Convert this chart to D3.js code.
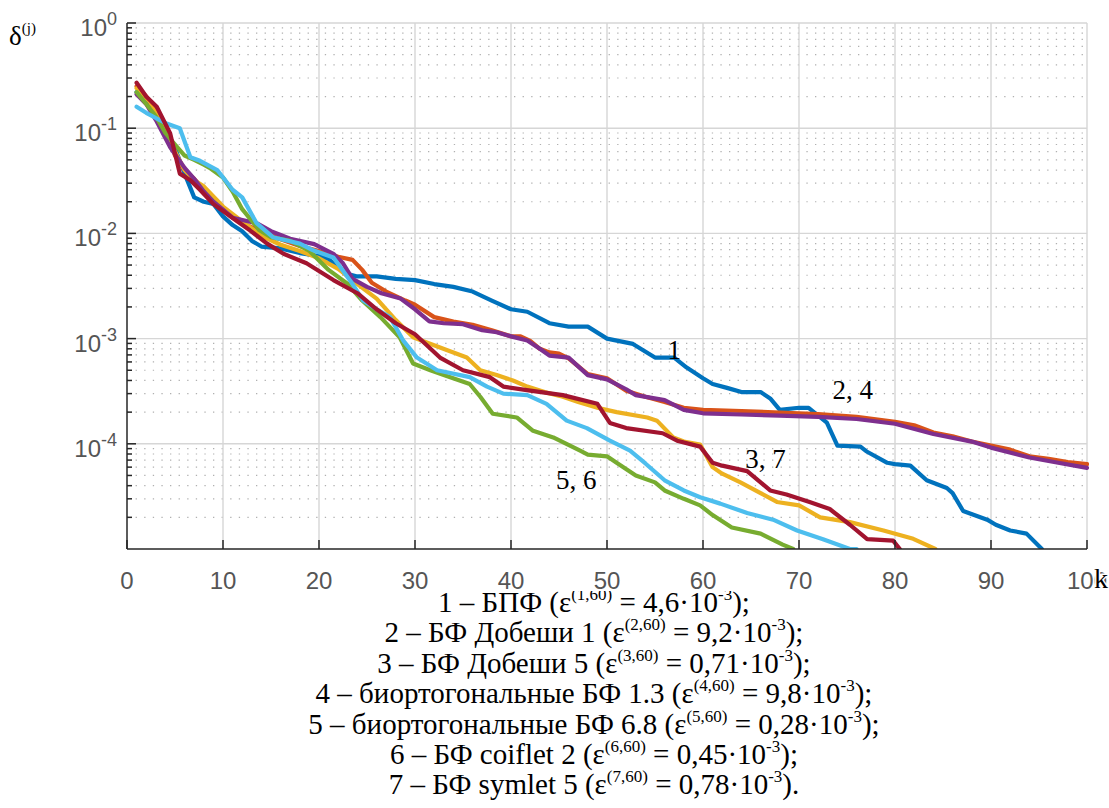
<!DOCTYPE html>
<html>
<head>
<meta charset="utf-8">
<script src="https://cdn.jsdelivr.net/npm/d3@7"></script>
<style>
  body { margin: 0; background: #fff; }
  svg { display: block; }
</style>
</head>
<body>
<div id="chart"></div>
<script>
// curve 1 - БПФ
var k1 = [1,2,3,4,5,6,7,8,9,10,11,12,13,14,16,18,20,21,22,23,24,26,28,30,32,34,36,38,40,41.7,44,46,48,50,52.7,55,57,58.3,60,61,62.5,64,66,67,68,70,71,72.9,74,76.4,77,79.2,80,81.6,83.3,85.4,86,87.1,89.6,90.5,92,93.7,95.3];
var v1 = [0.22,0.18,0.14,0.1,0.065,0.037,0.022,0.020,0.019,0.0145,0.012,0.0105,0.0085,0.0075,0.0072,0.0065,0.0061,0.0057,0.0047,0.0041,0.0039,0.0039,0.0037,0.0036,0.0033,0.0031,0.0028,0.0023,0.0019,0.0018,0.0014,0.0013,0.0013,0.0010,0.00089,0.00066,0.00066,0.00053,0.00042,0.00037,0.00034,0.00031,0.00031,0.00027,0.00021,0.00022,0.00022,0.000159,0.000096,0.000094,0.000085,0.000066,0.000064,0.000062,0.000045,0.000038,0.000034,0.000023,0.000019,0.000017,0.000015,0.000014,0.00001];
// curve 2 - БФ Добеши 1
var k2 = [1,2,3,4,5,6,7,8,9,10,12,14,16,18,20,22,23.5,24.5,25.5,27,29,30,32,34,36,38,40,41,42,43,44,45,46,48,50,52,54,56,58,60,64,68,72,76,80,82,84,86,88,90,92,94,96,98,100];
var v2 = [0.25,0.2,0.15,0.095,0.055,0.04,0.033,0.026,0.021,0.017,0.0125,0.0105,0.0088,0.0076,0.0068,0.006,0.0056,0.0045,0.0034,0.0028,0.0023,0.0021,0.0016,0.00145,0.00135,0.0012,0.00105,0.00105,0.00095,0.0008,0.00074,0.00072,0.00065,0.00046,0.00042,0.00032,0.00028,0.00025,0.00022,0.00021,0.000205,0.000198,0.000192,0.00018,0.000162,0.00015,0.000128,0.000118,0.000105,0.000096,0.000088,0.000076,0.000072,0.000067,0.000064];
// curve 3 - БФ Добеши 5
var k3 = [1,2,3,4,5,6,7,8,10,12,14,16,18,20,22,24,26,28,29.8,31.5,33.3,35.4,36.8,38.5,40.2,41.7,43.5,45.4,47,49,51,54.2,55.2,56.9,58,59.7,61,62,63.9,66,67.7,70,72.2,75.3,78.8,81.9,84.2];
var v3 = [0.24,0.19,0.14,0.09,0.06,0.04,0.032,0.028,0.018,0.013,0.0095,0.0078,0.0068,0.0058,0.0046,0.0033,0.0024,0.0015,0.00103,0.0009,0.00078,0.00066,0.0005,0.00045,0.0004,0.00035,0.00031,0.00028,0.00025,0.00022,0.0002,0.000178,0.000166,0.000115,0.000105,0.0000985,0.00006,0.000052,0.000043,0.000034,0.000028,0.000026,0.00002,0.000018,0.000015,0.0000125,0.00001];
// curve 4 - биортогональные БФ 1.3
var k4 = [1,2,3,4.5,6,7,8,9,11,13.5,15,17,19.5,21.5,22.5,23.5,25,26.5,28.5,30,31.5,33,35,37,38.5,40,41.7,43,44,46,48,50,52,53,56,58,60,64,68,72,76,80,84,88,90,94,97,100];
var v4 = [0.21,0.17,0.12,0.066,0.042,0.033,0.025,0.02,0.0141,0.0125,0.0105,0.0089,0.0079,0.0064,0.0052,0.0037,0.0031,0.0027,0.0024,0.0019,0.00146,0.0014,0.00137,0.0012,0.00115,0.00105,0.00096,0.0008,0.00069,0.00066,0.00045,0.00041,0.00033,0.00029,0.00026,0.00021,0.000195,0.00019,0.000185,0.00018,0.000172,0.000155,0.000124,0.000105,0.000092,0.000074,0.000066,0.000059];
// curve 5 - биортогональные БФ 6.8
var k5 = [1,2,3,4,5,6,7,8,8.6,10,11,12,13.8,15,17,19,21,23,24.5,26.4,28.4,29.8,31.6,33,35.7,36.8,38.1,40.6,42.3,44.4,47.2,48,50,51,53,55,56,58,59.7,61,63,66,68.3,69.4];
var v5 = [0.22,0.17,0.13,0.09,0.07,0.055,0.05,0.045,0.042,0.034,0.025,0.017,0.0107,0.0092,0.0085,0.0068,0.0045,0.0033,0.0023,0.0016,0.00103,0.00058,0.0005,0.00045,0.00037,0.00028,0.000193,0.000178,0.000133,0.000115,0.000086,0.000079,0.000076,0.000066,0.00005,0.000043,0.000036,0.00003,0.000026,0.000021,0.000016,0.000014,0.000011,0.00001];
// curve 6 - БФ coiflet 2
var k6 = [1,2,3,4.2,5.5,6.6,7.6,9.4,11,12,13.5,15.2,18,19.4,21.5,23.5,24.6,26,27.4,28.8,30.2,32.3,35.7,37.5,39.2,41.7,43.7,45.8,47.9,50.3,52.4,54,56,58,59.7,61.8,64.6,67.3,69.8,72.5,75.3,76];
var v6 = [0.16,0.14,0.125,0.11,0.1,0.053,0.049,0.04,0.026,0.022,0.0125,0.0092,0.008,0.0069,0.0059,0.0033,0.0023,0.0019,0.0016,0.00095,0.00066,0.0005,0.00043,0.00035,0.0003,0.00029,0.00024,0.000166,0.000141,0.000107,0.000086,0.000065,0.000045,0.000036,0.000031,0.000027,0.000022,0.000019,0.000015,0.0000124,0.00001,0.00001];
// curve 7 - БФ symlet 5
var k7 = [1,2,3.1,4.5,5.5,6.6,7.6,9,11,12.8,14.6,16.3,18.7,21.5,24,26,28,30,32.6,35,37.8,39.2,42,45.4,49,50.3,52,55.8,57.3,59.7,61,62,64.6,67,68.7,71.1,73.2,75.3,77.1,79.8,80.5];
var v7 = [0.27,0.2,0.16,0.089,0.037,0.032,0.026,0.019,0.014,0.0107,0.008,0.0064,0.0052,0.0036,0.0027,0.0019,0.0014,0.0011,0.00066,0.0005,0.00043,0.00035,0.00032,0.00029,0.00024,0.000158,0.000141,0.000126,0.000107,0.000094,0.000066,0.000062,0.000055,0.000036,0.000033,0.000028,0.000024,0.000017,0.0000124,0.000012,0.00001];

var xTicks = [0,10,20,30,40,50,60,70,80,90,100];
var yTicks = [1e-4,1e-3,1e-2,1e-1,1];
var yExp = ['-4','-3','-2','-1','0'];

var curveNames = ['БПФ','БФ Добеши 1','БФ Добеши 5','биортогональные БФ 1.3','биортогональные БФ 6.8','БФ coiflet 2','БФ symlet 5'];
var curveEps = ['4,6','9,2','0,71','9,8','0,28','0,45','0,78'];
var curveLabels = ['1','2, 4','3, 7','5, 6'];
var curveLabelK = [56.3, 73.5, 64.4, 44.7];
var curveLabelV = [6.4e-4, 2.68e-4, 5.9e-5, 3.7e-5];

var W = 1109, H = 808,
    plotL = 127, plotR = 1087, plotT = 23, plotB = 549,
    colors = ['#0072BD','#D95319','#EDB120','#7E2F8E','#77AC30','#4DBEEE','#A2142F'],
    serif = '"Liberation Serif", "Times New Roman", serif',
    sans = '"Liberation Sans", Arial, Helvetica, sans-serif';

var svg = d3.select('#chart').append('svg')
    .attr('width', W)
    .attr('height', H);

var x = d3.scaleLinear().domain([0, 100]).range([plotL, plotR]);
var y = d3.scaleLog().domain([1e-5, 1]).range([plotB, plotT]);

// minor values on log axis
var minor = [];
for (var e = -5; e < 0; e++) {
    for (var m = 2; m <= 9; m++) minor.push(m * Math.pow(10, e));
}

var grid = svg.append('g');
grid.selectAll('.minor').data(minor).enter().append('line')
    .attr('x1', plotL).attr('x2', plotR)
    .attr('y1', function (d) { return y(d); })
    .attr('y2', function (d) { return y(d); })
    .attr('stroke', '#b0b0b0').attr('stroke-width', 1.2)
    .attr('stroke-dasharray', '1.3,7.3');

grid.selectAll('.hmaj').data(yTicks).enter().append('line')
    .attr('x1', plotL).attr('x2', plotR)
    .attr('y1', function (d) { return y(d); })
    .attr('y2', function (d) { return y(d); })
    .attr('stroke', '#d6d6d6').attr('stroke-width', 1.4);

grid.selectAll('.vmaj').data(xTicks.slice(1)).enter().append('line')
    .attr('y1', plotT).attr('y2', plotB)
    .attr('x1', function (d) { return x(d); })
    .attr('x2', function (d) { return x(d); })
    .attr('stroke', '#d6d6d6').attr('stroke-width', 1.4);

// curves
var ks = [k1, k2, k3, k4, k5, k6, k7],
    vs = [v1, v2, v3, v4, v5, v6, v7];

svg.append('clipPath').attr('id', 'plotclip').append('rect')
    .attr('x', plotL).attr('y', plotT - 2).attr('width', plotR - plotL + 2).attr('height', plotB - plotT + 2);

var line = d3.line()
    .x(function (d) { return x(d[0]); })
    .y(function (d) { return y(d[1]); });

var curves = svg.append('g').attr('clip-path', 'url(#plotclip)');
ks.forEach(function (kk, i) {
    var pts = kk.map(function (k, j) { return [k, vs[i][j]]; });
    curves.append('path')
        .attr('d', line(pts))
        .attr('fill', 'none')
        .attr('stroke', colors[i])
        .attr('stroke-width', 4.2)
        .attr('stroke-linejoin', 'round')
        .attr('stroke-linecap', 'round');
});

// legend text under the axes
var legend = svg.append('g')
    .attr('font-family', serif).attr('font-size', 29).attr('fill', '#000');
curveNames.forEach(function (name, i) {
    var t = legend.append('text')
        .attr('x', 594).attr('y', 612 + i * 30.4)
        .attr('text-anchor', 'middle');
    t.append('tspan').text((i + 1) + ' – ' + name + ' (ε');
    t.append('tspan').attr('font-size', 17).attr('dy', -12).text('(' + (i + 1) + ',60)');
    t.append('tspan').attr('dy', 12).text(' = ' + curveEps[i] + '·10');
    t.append('tspan').attr('font-size', 17).attr('dy', -12).text('-3');
    t.append('tspan').attr('dy', 12).text(i === curveNames.length - 1 ? ').' : ');');
});

// white band where the axes box covers the first legend line
svg.append('rect').attr('x', 110).attr('y', 553).attr('width', 1000).attr('height', 38).attr('fill', '#fff');

// axes
var ax = svg.append('g').attr('stroke', '#262626').attr('stroke-width', 1.5);
ax.append('line').attr('x1', plotL).attr('x2', plotL).attr('y1', plotT).attr('y2', plotB);
ax.append('line').attr('x1', plotL).attr('x2', plotR).attr('y1', plotB).attr('y2', plotB);
ax.selectAll('.yt').data(yTicks).enter().append('line')
    .attr('x1', plotL).attr('x2', plotL + 9)
    .attr('y1', function (d) { return y(d); }).attr('y2', function (d) { return y(d); });
ax.selectAll('.ym').data(minor).enter().append('line')
    .attr('x1', plotL).attr('x2', plotL + 5)
    .attr('y1', function (d) { return y(d); }).attr('y2', function (d) { return y(d); });
ax.selectAll('.xt').data(xTicks).enter().append('line')
    .attr('x1', function (d) { return x(d); }).attr('x2', function (d) { return x(d); })
    .attr('y1', plotB).attr('y2', plotB - 9);

// tick labels
svg.append('g').selectAll('text').data(xTicks).enter().append('text')
    .attr('x', function (d) { return x(d); })
    .attr('y', 589)
    .attr('text-anchor', 'middle')
    .attr('font-family', sans).attr('font-size', 24).attr('fill', '#555')
    .text(function (d) { return d; });

var yl = svg.append('g').attr('font-family', sans).attr('fill', '#555');
yTicks.forEach(function (d, i) {
    var t = yl.append('text')
        .attr('x', 117).attr('y', y(d) + 13)
        .attr('text-anchor', 'end').attr('font-size', 24);
    t.append('tspan').text('10');
    t.append('tspan').attr('font-size', 18).attr('dy', -11).text(yExp[i]);
});

// axis names
svg.append('text')
    .attr('x', 1094).attr('y', 588)
    .attr('font-family', serif).attr('font-size', 28)
    .attr('stroke', '#fff').attr('stroke-width', 3).attr('paint-order', 'stroke')
    .text('k');

var yn = svg.append('text')
    .attr('x', 9).attr('y', 45)
    .attr('font-family', serif).attr('font-size', 27);
yn.append('tspan').text('δ');
yn.append('tspan').attr('font-size', 15).attr('dy', -12).text('(j)');

// curve numbers
svg.append('g').selectAll('text').data(curveLabels).enter().append('text')
    .attr('x', function (d, i) { return x(curveLabelK[i]); })
    .attr('y', function (d, i) { return y(curveLabelV[i]); })
    .attr('font-family', serif).attr('font-size', 27)
    .text(function (d) { return d; });
</script>
</body>
</html>
